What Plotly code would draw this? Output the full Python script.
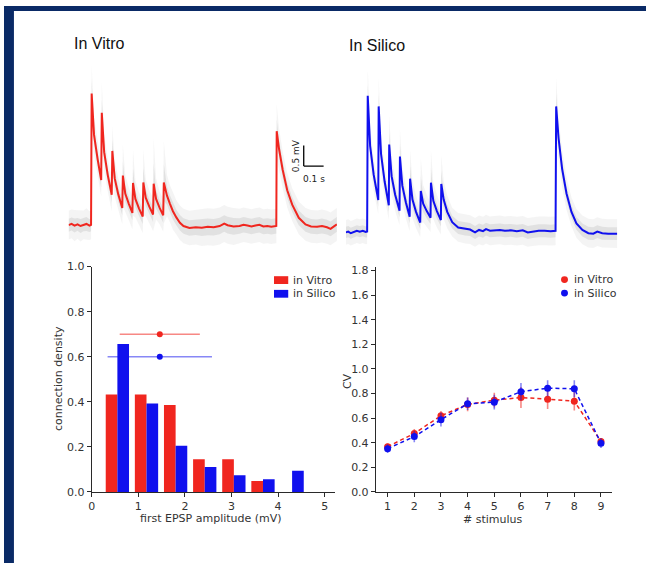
import plotly.graph_objects as go

W, H = 646, 570

# ---------------------------------------------------------------------------
# Paired-pulse recordings: (time in ms, mean potential in mV above rest,
# half-width of the trial-to-trial spread in mV)
# ---------------------------------------------------------------------------
VITRO_TRACE = [
    (0, 0.00, 0.35), (15, 0.03, 0.35), (30, -0.01, 0.38), (45, 0.02, 0.35),
    (60, -0.02, 0.38), (75, 0.01, 0.35), (90, 0.03, 0.38), (105, -0.01, 0.35),
    (113, 0.01, 0.35),
    (116, 3.21, 0.70), (128, 2.20, 0.45), (146, 1.61, 0.40), (164, 1.10, 0.40),
    (167, 2.74, 0.75), (179, 1.78, 0.45), (197, 1.22, 0.40), (217, 0.74, 0.40),
    (220, 1.81, 0.60), (232, 1.14, 0.45), (250, 0.75, 0.40), (270, 0.42, 0.40),
    (273, 1.21, 0.75), (285, 0.77, 0.45), (303, 0.52, 0.40), (321, 0.30, 0.40),
    (324, 1.03, 0.80), (336, 0.64, 0.45), (354, 0.41, 0.40), (373, 0.21, 0.40),
    (376, 1.04, 0.80), (388, 0.67, 0.45), (406, 0.45, 0.40), (425, 0.26, 0.40),
    (428, 1.01, 1.10), (440, 0.64, 0.50), (458, 0.42, 0.40), (476, 0.24, 0.40),
    (479, 1.04, 1.00), (495, 0.72, 0.50), (510, 0.52, 0.45), (525, 0.34, 0.45),
    (542, 0.19, 0.42), (560, 0.06, 0.42), (578, -0.02, 0.42), (608, -0.07, 0.42),
    (640, -0.05, 0.42), (670, -0.06, 0.45), (700, -0.04, 0.45), (730, -0.05, 0.45),
    (760, -0.02, 0.45), (783, 0.04, 0.45), (800, 0.00, 0.45), (830, -0.03, 0.45),
    (860, -0.02, 0.42), (880, 0.01, 0.42), (900, -0.01, 0.42), (920, -0.03, 0.42),
    (940, -0.01, 0.42), (960, 0.01, 0.42), (980, -0.03, 0.42), (1000, -0.02, 0.42),
    (1020, -0.04, 0.42), (1040, -0.02, 0.42), (1045, -0.02, 0.42),
    (1047, 2.29, 0.65), (1059, 1.85, 0.50), (1077, 1.35, 0.45), (1100, 0.85, 0.42),
    (1125, 0.50, 0.40), (1158, 0.18, 0.40), (1192, 0.02, 0.40), (1220, -0.03, 0.40),
    (1250, -0.04, 0.40), (1275, -0.02, 0.40), (1300, -0.05, 0.40), (1318, -0.09, 0.40),
    (1335, -0.03, 0.40), (1350, 0.02, 0.40),
]

SILICO_TRACE = [
    (0, 0.00, 0.30), (12, 0.02, 0.30), (25, -0.02, 0.30), (40, 0.01, 0.30),
    (55, 0.04, 0.30), (70, 0.02, 0.30), (85, 0.04, 0.30), (100, 0.01, 0.30),
    (107, 0.02, 0.30),
    (110, 3.33, 0.70), (122, 2.11, 0.45), (140, 1.40, 0.40), (163, 0.79, 0.35),
    (165, 3.07, 0.70), (177, 1.91, 0.45), (195, 1.24, 0.40), (216, 0.66, 0.35),
    (218, 2.14, 0.70), (230, 1.37, 0.45), (248, 0.92, 0.40), (270, 0.53, 0.35),
    (272, 1.85, 0.65), (284, 1.14, 0.45), (302, 0.73, 0.40), (321, 0.38, 0.35),
    (323, 1.31, 0.70), (335, 0.80, 0.45), (353, 0.50, 0.40), (374, 0.24, 0.35),
    (377, 1.01, 0.80), (389, 0.70, 0.45), (407, 0.52, 0.40), (426, 0.36, 0.35),
    (428, 1.21, 0.80), (440, 0.77, 0.45), (458, 0.52, 0.40), (478, 0.30, 0.35),
    (480, 1.18, 0.70), (492, 0.80, 0.45), (510, 0.50, 0.40), (535, 0.25, 0.35),
    (565, 0.12, 0.35), (600, 0.08, 0.35), (625, 0.07, 0.35), (650, 0.00, 0.35),
    (670, 0.06, 0.35), (690, 0.03, 0.35), (705, 0.08, 0.35), (725, 0.04, 0.35),
    (750, 0.05, 0.35), (775, 0.06, 0.35), (800, 0.04, 0.35), (830, 0.05, 0.35),
    (860, 0.03, 0.35), (890, 0.05, 0.35), (915, 0.00, 0.35), (940, 0.02, 0.35),
    (970, 0.04, 0.35), (1000, 0.04, 0.35), (1030, 0.03, 0.35), (1055, 0.04, 0.35),
    (1058, 3.07, 0.70), (1070, 2.30, 0.50), (1088, 1.55, 0.45), (1110, 0.95, 0.40),
    (1135, 0.50, 0.35), (1160, 0.22, 0.35), (1190, 0.06, 0.35), (1220, -0.02, 0.35),
    (1245, -0.03, 0.35), (1265, 0.02, 0.35), (1290, -0.02, 0.35), (1320, -0.03, 0.35),
    (1345, -0.03, 0.35), (1366, -0.03, 0.35),
]

# scale bar
SCALE_MV = 0.5
SCALE_MS = 100

# ---------------------------------------------------------------------------
# First-EPSP amplitude distribution
# ---------------------------------------------------------------------------
AMP_BIN_CENTERS = [0.55, 1.175, 1.8, 2.425, 3.05, 3.675, 4.3]
DENSITY_VITRO = [0.433, 0.433, 0.386, 0.145, 0.145, 0.049, 0.0]
DENSITY_SILICO = [0.657, 0.393, 0.205, 0.111, 0.074, 0.056, 0.094]
AMP_MEAN = {"vitro": 1.46, "silico": 1.46}
AMP_SD = {"vitro": 0.86, "silico": 1.12}
AMP_MARK_LEVEL = {"vitro": 0.70, "silico": 0.60}

# ---------------------------------------------------------------------------
# Coefficient of variation per stimulus
# ---------------------------------------------------------------------------
STIMULUS = [1, 2, 3, 4, 5, 6, 7, 8, 9]
CV_VITRO = [0.368, 0.476, 0.619, 0.712, 0.746, 0.768, 0.754, 0.738, 0.410]
CV_VITRO_ERR = [0.025, 0.035, 0.040, 0.055, 0.060, 0.085, 0.080, 0.075, 0.025]
CV_SILICO = [0.352, 0.450, 0.588, 0.717, 0.730, 0.815, 0.844, 0.839, 0.397]
CV_SILICO_ERR = [0.035, 0.045, 0.055, 0.050, 0.060, 0.070, 0.065, 0.070, 0.040]

RED = "#f0261f"
BLUE = "#1010ee"
RED_SOFT = "rgba(240,38,31,0.55)"
BLUE_SOFT = "rgba(16,16,238,0.50)"
INK = "#2a2a2a"
FONT = "DejaVu Sans"


def px(x):
    return x / W


def py(y):
    return 1 - y / H


fig = go.Figure()


def add_recording(rows, color, xa, ya):
    t = [r[0] for r in rows]
    v = [r[1] for r in rows]
    s = [r[2] for r in rows]
    for frac, alpha in ((1.0, 0.08), (0.45, 0.14)):
        up = [vi + si * frac for vi, si in zip(v, s)]
        lo = [vi - si * frac for vi, si in zip(v, s)]
        fig.add_trace(go.Scatter(
            x=t + t[::-1], y=up + lo[::-1], mode="lines", fill="toself",
            fillcolor=f"rgba(110,110,110,{alpha})", line=dict(width=0),
            hoverinfo="skip", showlegend=False, xaxis=xa, yaxis=ya))
    fig.add_trace(go.Scatter(
        x=t, y=v, mode="lines", line=dict(color=color, width=2),
        showlegend=False, xaxis=xa, yaxis=ya))


add_recording(VITRO_TRACE, RED, "x", "y")
add_recording(SILICO_TRACE, BLUE, "x2", "y2")

# histogram bars (red left of each bin, blue right)
fig.add_trace(go.Bar(x=AMP_BIN_CENTERS, y=DENSITY_VITRO, width=0.25, offset=-0.25,
                     marker=dict(color=RED, line=dict(width=0)), name="in Vitro",
                     showlegend=False, xaxis="x3", yaxis="y3"))
fig.add_trace(go.Bar(x=AMP_BIN_CENTERS, y=DENSITY_SILICO, width=0.25, offset=0.0,
                     marker=dict(color=BLUE, line=dict(width=0)), name="in Silico",
                     showlegend=False, xaxis="x3", yaxis="y3"))

for key, col, soft in (("vitro", RED, RED_SOFT), ("silico", BLUE, BLUE_SOFT)):
    fig.add_trace(go.Scatter(
        x=[AMP_MEAN[key]], y=[AMP_MARK_LEVEL[key]], mode="markers",
        marker=dict(color=col, size=6),
        error_x=dict(type="data", array=[AMP_SD[key]], color=soft, thickness=1.6, width=0),
        showlegend=False, xaxis="x3", yaxis="y3"))

# CV curves
for vals, errs, col, soft in ((CV_VITRO, CV_VITRO_ERR, RED, RED_SOFT),
                              (CV_SILICO, CV_SILICO_ERR, BLUE, BLUE_SOFT)):
    fig.add_trace(go.Scatter(
        x=STIMULUS, y=vals, mode="lines+markers",
        line=dict(color=col, width=1.5, dash="4px,3px"),
        marker=dict(color=col, size=7),
        error_y=dict(type="data", array=errs, color=soft, thickness=1.6, width=0),
        showlegend=False, xaxis="x4", yaxis="y4"))

hidden = dict(visible=False, fixedrange=True)
axis_style = dict(showline=True, linecolor=INK, linewidth=1.3, ticks="outside",
                  ticklen=4, tickwidth=1.2, tickcolor=INK, showgrid=False,
                  zeroline=False, tickfont=dict(family=FONT, size=11, color="#333"))

fig.update_layout(
    width=W, height=H, margin=dict(l=0, r=0, t=0, b=0),
    paper_bgcolor="white", plot_bgcolor="rgba(0,0,0,0)",
    barmode="overlay",
    xaxis=dict(domain=[px(65), px(335)], range=[0, 1350], anchor="y", **hidden),
    yaxis=dict(domain=[py(249.5), py(60.5)], range=[-0.6, 3.9], anchor="x", **hidden),
    xaxis2=dict(domain=[px(344), px(617)], range=[0, 1365], anchor="y2", **hidden),
    yaxis2=dict(domain=[py(256.9), py(67.9)], range=[-0.6, 3.9], anchor="x2", **hidden),
    xaxis3=dict(domain=[px(88.3), px(332.7)], range=[0, 5.213], anchor="y3",
                tickvals=[0, 1, 2, 3, 4, 5], **axis_style),
    yaxis3=dict(domain=[py(497.3), py(266.7)], range=[0, 1.0], anchor="x3",
                tickvals=[0, 0.2, 0.4, 0.6, 0.8, 1.0], tickformat=".1f", **axis_style),
    xaxis4=dict(domain=[px(374.3), px(611.7)], range=[0.564, 9.41], anchor="y4",
                tickvals=STIMULUS, **axis_style),
    yaxis4=dict(domain=[py(497.3), py(266.7)], range=[0, 1.832], anchor="x4",
                tickvals=[0, 0.2, 0.4, 0.6, 0.8, 1.0, 1.2, 1.4, 1.6, 1.8],
                tickformat=".1f", **axis_style),
    showlegend=False,
)

shapes = [
    # navy frame strips
    dict(type="rect", xref="paper", yref="paper", x0=0, x1=px(10), y0=0, y1=1,
         fillcolor="#0a2a66", line=dict(width=0)),
    dict(type="rect", xref="paper", yref="paper", x0=0, x1=1, y0=py(5), y1=1,
         fillcolor="#0a2a66", line=dict(width=0)),
    # scale bar drawn in recording units
    dict(type="line", xref="x", yref="y", x0=1183, x1=1183, y0=1.44, y1=1.44 + SCALE_MV,
         line=dict(color="black", width=1.3)),
    dict(type="line", xref="x", yref="y", x0=1183, x1=1183 + SCALE_MS, y0=1.44, y1=1.44,
         line=dict(color="black", width=1.3)),
    # legend swatches, histogram
    dict(type="rect", xref="paper", yref="paper", x0=px(271.7), x1=px(286),
         y0=py(284.5), y1=py(276.5), fillcolor=RED, line=dict(width=0)),
    dict(type="rect", xref="paper", yref="paper", x0=px(271.7), x1=px(286),
         y0=py(298.5), y1=py(290.5), fillcolor=BLUE, line=dict(width=0)),
    # legend markers, CV plot
    dict(type="circle", xref="paper", yref="paper", x0=px(560.5), x1=px(567.5),
         y0=py(283.5), y1=py(276.5), fillcolor=RED, line=dict(width=0)),
    dict(type="circle", xref="paper", yref="paper", x0=px(560.5), x1=px(567.5),
         y0=py(297.3), y1=py(290.3), fillcolor=BLUE, line=dict(width=0)),
]
fig.update_layout(shapes=shapes)


def label(x, y, text, size=11, anchor="center", angle=0, family=FONT, color="#333"):
    fig.add_annotation(x=px(x), y=py(y), xref="paper", yref="paper", text=text,
                       showarrow=False, xanchor=anchor, yanchor="middle",
                       textangle=angle, font=dict(family=family, size=size, color=color))


TITLE_FONT = "Liberation Sans Narrow, Liberation Sans, Arial"
label(68, 38, "In Vitro", size=16, anchor="left", family=TITLE_FONT, color="#111")
label(345, 40, "In Silico", size=16, anchor="left", family=TITLE_FONT, color="#111")

fig.add_annotation(x=1176, y=1.44 + SCALE_MV / 2, xref="x", yref="y", text="0.5 mV",
                   showarrow=False, textangle=-90, xanchor="right", yanchor="middle",
                   font=dict(family=FONT, size=9, color="#222"))
fig.add_annotation(x=1183 + SCALE_MS / 2, y=1.30, xref="x", yref="y", text="0.1 s",
                   showarrow=False, xanchor="center", yanchor="top",
                   font=dict(family=FONT, size=9, color="#222"))

label(55, 381, "connection density", angle=-90)
label(208, 524, "first EPSP amplitude (mV)")
label(345, 384, "CV", angle=-90)
label(492, 525, "# stimulus")

label(288.5, 280.5, "in Vitro", anchor="left")
label(288.5, 294.5, "in Silico", anchor="left")
label(572, 280, "in Vitro", anchor="left")
label(572, 294, "in Silico", anchor="left")

fig.write_html("out.html")
